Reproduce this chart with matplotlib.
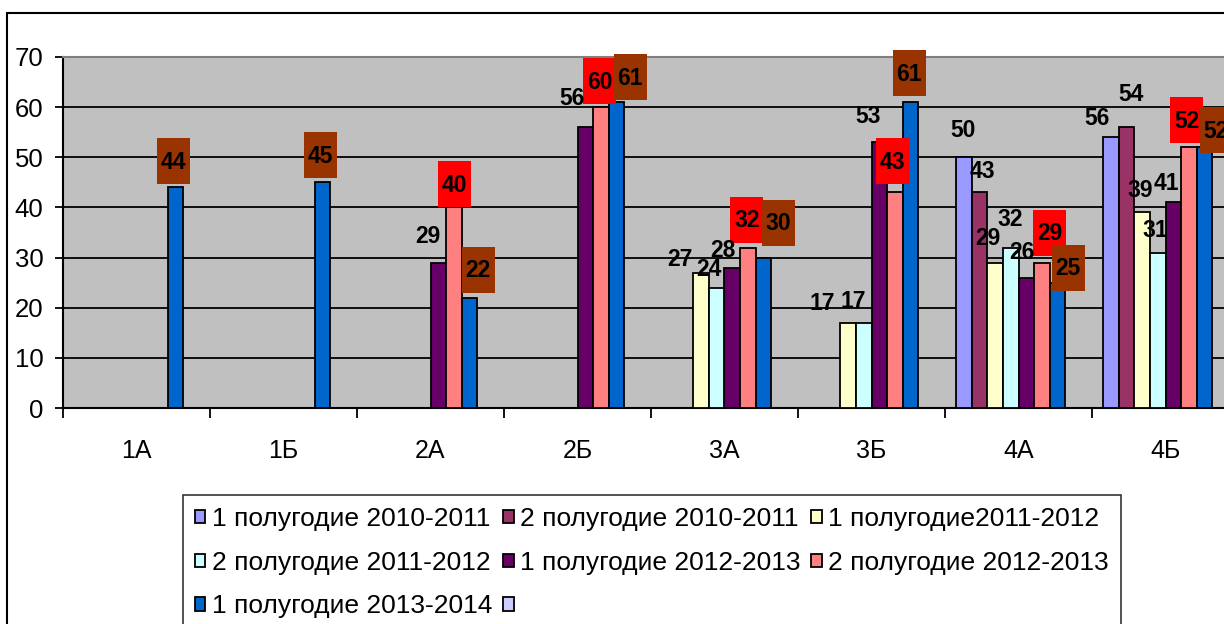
import numpy as np
import matplotlib
matplotlib.use('Agg')
import matplotlib.pyplot as plt
from matplotlib.patches import Rectangle

plt.rcParams['font.family'] = ['Liberation Sans', 'DejaVu Sans']

nan = np.nan
categories = ['1А', '1Б', '2А', '2Б', '3А', '3Б', '4А', '4Б']
series_names = ['1 полугодие 2010-2011', '2 полугодие 2010-2011', '1 полугодие2011-2012',
                '2 полугодие 2011-2012', '1 полугодие 2012-2013', '2 полугодие 2012-2013',
                '1 полугодие 2013-2014', '']
s1 = [nan, nan, nan, nan, nan, nan, 50, 54]
s2 = [nan, nan, nan, nan, nan, nan, 43, 56]
s3 = [nan, nan, nan, nan, 27, 17, 29, 39]
s4 = [nan, nan, nan, nan, 24, 17, 32, 31]
s5 = [nan, nan, 29, 56, 28, 53, 26, 41]
s6 = [nan, nan, 40, 60, 32, 43, 29, 52]
s7 = [44, 45, 22, 61, 30, 61, 25, 52]
s8 = [nan] * 8
series = [s1, s2, s3, s4, s5, s6, s7, s8]
colors = ['#9999FF', '#993366', '#FFFFCC', '#CCFFFF', '#660066', '#FF8080', '#0066CC', '#CCCCFF']
# label boxes (None = plain text)
box_colors = [None, None, None, None, None, '#FF0000', '#993300', None]

# hand-placed label offsets in pixels (dx right, up) : (category, series)
label_off = {
    (0, 6): (-2, 26), (1, 6): (-2, 27),
    (2, 4): (-10, 27), (2, 5): (1, 23), (2, 6): (9, 28),
    (3, 4): (-13, 30), (3, 5): (-1, 26), (3, 6): (14, 25),
    (4, 2): (-21, 14), (4, 3): (-8, 19), (4, 4): (-9, 18), (4, 5): (-1, 28), (4, 6): (15, 35),
    (5, 2): (-26, 20), (5, 3): (-10, 22), (5, 4): (-11, 27), (5, 5): (-2, 31), (5, 6): (-1, 29),
    (6, 0): (-1, 28), (6, 1): (3, 22), (6, 2): (-7, 25), (6, 3): (-1, 29), (6, 4): (-4, 26),
    (6, 5): (8, 30), (6, 6): (11, 15),
    (7, 0): (20, 44), (7, 1): (-30, 10), (7, 2): (-2, 23), (7, 3): (-3, 23), (7, 4): (-7, 20),
    (7, 5): (-2, 27), (7, 6): (12, 17),
}

W, H = 1224, 624
fig = plt.figure(figsize=(12.24, 6.24), dpi=100)
ax = fig.add_axes([63 / W, 1 - 408 / H, 1176 / W, 351 / H])
ax.set_facecolor('#C0C0C0')
ax.set_xlim(-0.5, 7.5)
ax.set_ylim(0, 70)

x = np.arange(len(categories))
w = 0.1055
handles = []
for j, vals in enumerate(series):
    b = ax.bar(x + (j - 3.5) * w, vals, w, color=colors[j], edgecolor='black', linewidth=1.3,
               zorder=3, label=series_names[j])
    handles.append(b)

ax.yaxis.grid(True, color='black', linewidth=1.3, zorder=1)
ax.set_axisbelow(True)
ax.set_yticks(range(0, 71, 10))
ax.tick_params(axis='y', labelsize=18.5, length=6, width=1.3, pad=8)
ax.set_xticks(x)
ax.set_xticklabels(categories, fontsize=18)
ax.tick_params(axis='x', which='major', length=0, pad=22)
ax.set_xticks(np.arange(-0.5, 8, 1), minor=True)
ax.tick_params(axis='x', which='minor', length=7, width=1.3)
ax.spines['top'].set_color('#808080')
ax.spines['top'].set_linewidth(1.5)
ax.spines['right'].set_visible(False)
for s in ['left', 'bottom']:
    ax.spines[s].set_linewidth(1.5)

# pixel scale of the axes
p0 = ax.transData.transform((0, 0))
p1 = ax.transData.transform((1, 10))
pxx = p1[0] - p0[0]
pxy = (p1[1] - p0[1]) / 10

for j, vals in enumerate(series):
    for i, v in enumerate(vals):
        if np.isnan(v):
            continue
        dx, up = label_off.get((i, j), (0, 25))
        cx = x[i] + (j - 3.5) * w + dx / pxx
        cy = v + up / pxy
        if box_colors[j] is not None:
            bw, bh = 33 / pxx, 46 / pxy
            ax.add_patch(Rectangle((cx - bw / 2, cy - bh / 2), bw, bh, facecolor=box_colors[j],
                                   edgecolor='none', zorder=5, clip_on=False))
        ax.text(cx, cy - 1 / pxy, '%d' % v, ha='center', va='center', fontsize=16.5,
                fontweight='bold', zorder=6, clip_on=False)

# outer chart frame
fig.add_artist(Rectangle((7 / W, -0.1), 1.0, (H - 13) / H + 0.1, transform=fig.transFigure,
                         fill=False, edgecolor='black', linewidth=1.5))

order = [0, 3, 6, 1, 4, 7, 2, 5]
leg = fig.legend([handles[k] for k in order], [series_names[k] for k in order],
                 loc='upper left', bbox_to_anchor=(183 / W, 1 - 495 / H), ncol=3,
                 fontsize=19, frameon=True, fancybox=False, edgecolor='black',
                 handlelength=0.4, handleheight=0.4, handletextpad=0.25,
                 columnspacing=0.4, borderpad=0.45, labelspacing=0.75, borderaxespad=0)
leg.get_frame().set_linewidth(1.2)

fig.savefig('out.png', dpi=100)
